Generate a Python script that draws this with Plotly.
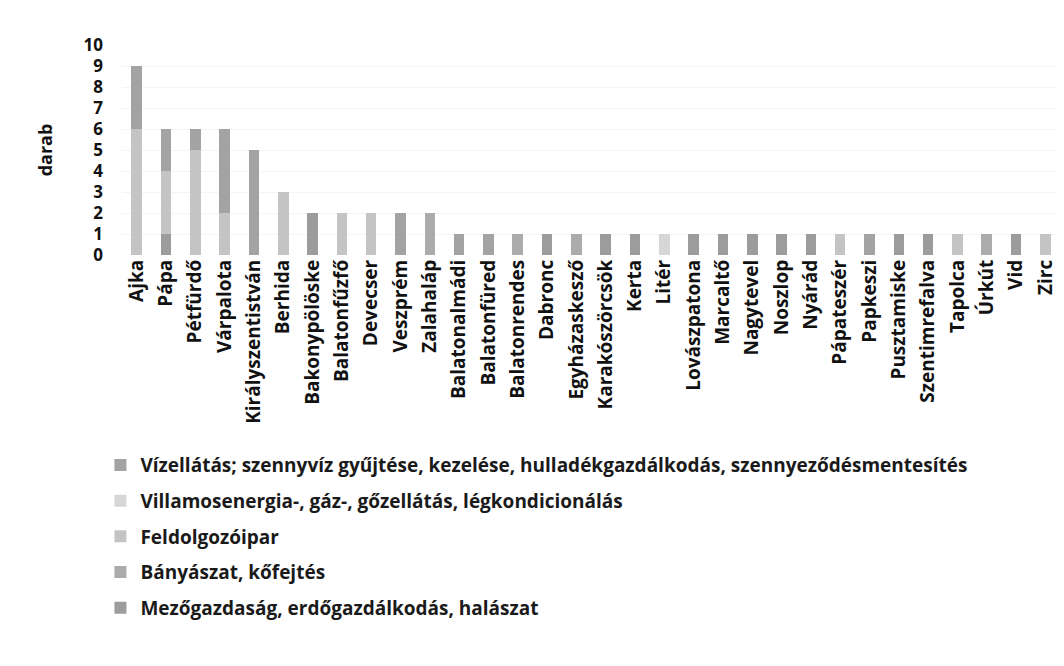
import plotly.graph_objects as go

categories = ["Ajka", "Pápa", "Pétfürdő", "Várpalota", "Királyszentistván", "Berhida",
              "Bakonypölöske", "Balatonfűzfő", "Devecser", "Veszprém", "Zalahaláp",
              "Balatonalmádi", "Balatonfüred", "Balatonrendes", "Dabronc", "Egyházaskesző",
              "Karakószörcsök", "Kerta", "Litér", "Lovászpatona", "Marcaltő", "Nagytevel",
              "Noszlop", "Nyárád", "Pápateszér", "Papkeszi", "Pusztamiske", "Szentimrefalva",
              "Tapolca", "Úrkút", "Vid", "Zirc"]

# stacked from bottom to top
mezogazdasag = [0, 1, 0, 0, 0, 0, 2, 0, 0, 0, 0, 0, 0, 0, 1, 0, 1, 1, 0, 1, 1, 1, 1, 1, 0, 0, 1, 1, 0, 0, 1, 0]
banyaszat    = [0, 0, 0, 0, 0, 0, 0, 0, 0, 0, 2, 0, 0, 1, 0, 1, 0, 0, 0, 0, 0, 0, 0, 0, 0, 0, 0, 0, 0, 1, 0, 0]
feldolgozo   = [6, 3, 5, 2, 0, 3, 0, 2, 2, 0, 0, 0, 0, 0, 0, 0, 0, 0, 0, 0, 0, 0, 0, 0, 1, 0, 0, 0, 1, 0, 0, 1]
villamos     = [0, 0, 0, 0, 0, 0, 0, 0, 0, 0, 0, 0, 0, 0, 0, 0, 0, 0, 1, 0, 0, 0, 0, 0, 0, 0, 0, 0, 0, 0, 0, 0]
vizellatas   = [3, 2, 1, 4, 5, 0, 0, 0, 0, 2, 0, 1, 1, 0, 0, 0, 0, 0, 0, 0, 0, 0, 0, 0, 0, 1, 0, 0, 0, 0, 0, 0]

series = [
    ("Mezőgazdaság, erdőgazdálkodás, halászat", mezogazdasag, "#9c9c9c"),
    ("Bányászat, kőfejtés", banyaszat, "#ababab"),
    ("Feldolgozóipar", feldolgozo, "#c4c4c4"),
    ("Villamosenergia-, gáz-, gőzellátás, légkondicionálás", villamos, "#d6d6d6"),
    ("Vízellátás; szennyvíz gyűjtése, kezelése, hulladékgazdálkodás, szennyeződésmentesítés", vizellatas, "#a3a3a3"),
]

FONT = "Open Sans"

fig = go.Figure()
n = len(series)
for i, (name, vals, col) in enumerate(series):
    fig.add_trace(go.Bar(x=categories, y=vals, name=name, marker_color=col,
                         marker_line_width=0, legendgroup=str(i), legendrank=n - i))

fig.update_layout(
    width=1064, height=666,
    barmode="stack", bargap=0.64,
    paper_bgcolor="white", plot_bgcolor="white",
    margin=dict(l=114, r=12, t=37, b=419),
    font=dict(family=FONT, color="#111111"),
    legend=dict(traceorder="grouped", tracegroupgap=8,
                x=-0.023, xanchor="left", y=-0.91, yanchor="top",
                font=dict(size=19, family=FONT, weight="bold", color="#1a1a1a"),
                itemwidth=30),
    showlegend=True,
)
fig.update_xaxes(tickangle=-90, tickfont=dict(size=19, family=FONT, weight="bold"),
                 showgrid=False, showline=False, ticks="", automargin=False)
fig.update_yaxes(range=[0, 10], dtick=1, showgrid=True, gridcolor="#f4f4f4",
                 tickfont=dict(size=17, family=FONT, weight="bold"),
                 ticklabelstandoff=18, zeroline=False, automargin=False,
                 title=dict(text="darab", font=dict(size=18, family=FONT, weight="bold"), standoff=26))

fig.write_html("out.html")
